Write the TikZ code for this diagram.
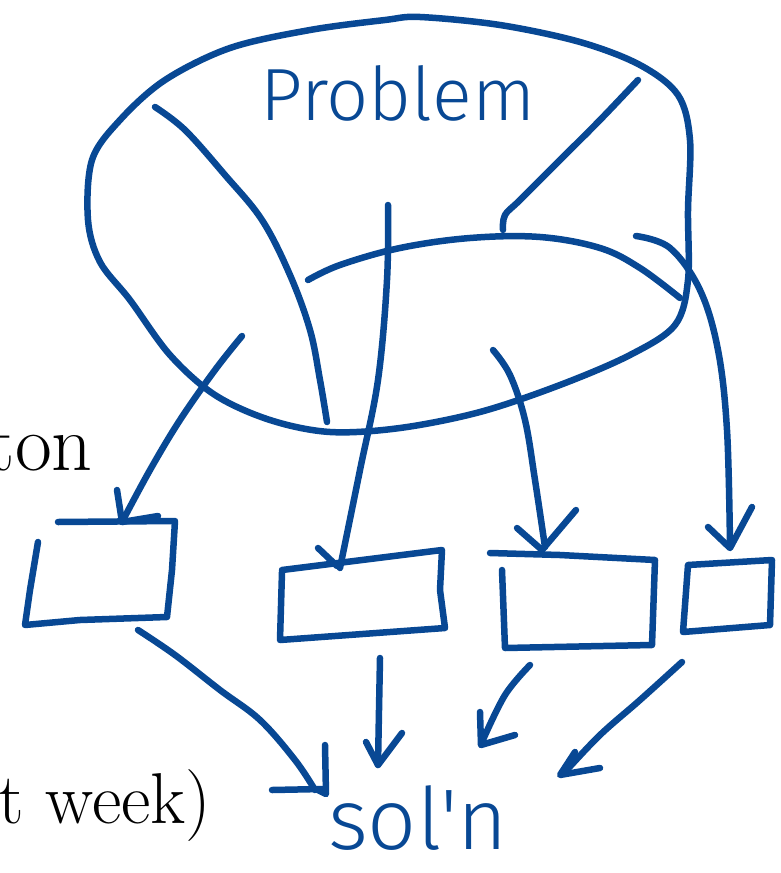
\documentclass[tikz,border=0pt]{standalone}
\usepackage{fontspec}
\newfontfamily\handfont{Fira Sans Light}
\definecolor{ink}{RGB}{8,72,148}
\tikzset{
  ink/.style={draw=ink, line width=6.5pt, line cap=round, line join=round},
  hand/.style={text=ink, font=\handfont\fontsize{86}{86}\selectfont, inner sep=0pt},
  slide/.style={text=black, inner sep=0pt}
}
\begin{document}
\begin{tikzpicture}[x=1pt,y=-1pt]
\useasboundingbox (0,0) rectangle (780,873);
% problem blob
\draw[ink] plot[smooth cycle, tension=0.55] coordinates {(420,17) (500,25) (580,42) (640,65) (678,95) (690,140) (688,210) (688,280) (675,325) (630,355) (560,385) (480,412) (400,428) (330,432) (270,420) (215,395) (170,355) (130,300) (100,262) (88,220) (92,160) (120,120) (165,80) (230,48) (310,30) (385,20)};
\draw[ink] plot[smooth, tension=0.6] coordinates {(308,280) (340,265) (400,248) (470,238) (540,237) (600,248) (640,268) (680,298)};
\draw[ink] plot[smooth, tension=0.6] coordinates {(155,107) (185,130) (225,175) (262,220) (290,275) (310,330) (320,380) (327,422)};
\draw[ink] plot[smooth, tension=0.6] coordinates {(638,80) (600,120) (560,160) (520,200) (505,215) (503,230)};
\node[hand, font=\handfont\fontsize{74}{74}\selectfont, anchor=base] (problem) at (398,120) {Problem};
% boxes
\coordinate (b1) at (100,570);
\coordinate (b2) at (362,595);
\coordinate (b3) at (578,600);
\coordinate (b4) at (728,595);
\draw[ink] (58,522) -- (175,521) -- (172,570) -- (167,617) -- (80,620) -- (25,625) -- (30,590) -- (38,542);
\draw[ink] (282,572) -- (280,640) -- (445,628) -- (440,590) -- (442,550) -- (282,570);
\draw[ink] (490,553) -- (560,555) -- (655,560) -- (652,645) -- (505,648) -- (502,570);
\draw[ink] (688,565) -- (683,632) -- (770,625) -- (772,560) -- (688,565);
% arrows from problem to boxes
\draw[ink] plot[smooth, tension=0.6] coordinates {(242,336) (215,370) (180,420) (150,470) (122,522)};
\draw[ink] (117,490) -- (122,522) -- (158,516);
\draw[ink] plot[smooth, tension=0.6] coordinates {(388,205) (387,280) (378,380) (360,470) (340,568)};
\draw[ink] (318,548) -- (337,566);
\draw[ink] plot[smooth, tension=0.6] coordinates {(493,350) (510,375) (525,420) (535,480) (545,547)};
\draw[ink] (517,528) -- (542,550) -- (576,510);
\draw[ink] plot[smooth, tension=0.6] coordinates {(636,236) (670,248) (700,290) (718,350) (727,430) (730,545)};
\draw[ink] (708,527) -- (730,548) -- (752,507);
% arrows from boxes to solution
\draw[ink] plot[smooth, tension=0.6] coordinates {(138,630) (175,655) (220,690) (260,720) (295,760) (315,790)};
\draw[ink] (272,790) -- (322,789);
\draw[ink] (325,745) -- (326,794) -- (318,790);
\draw[ink] (380,658) -- (379,710) -- (378,765);
\draw[ink] (366,742) -- (378,765) -- (402,733);
\draw[ink] plot[smooth, tension=0.6] coordinates {(530,665) (505,695) (482,742)};
\draw[ink] (480,712) -- (481,745) -- (515,735);
\draw[ink] plot[smooth, tension=0.6] coordinates {(682,662) (640,700) (600,735) (565,772)};
\draw[ink] (575,752) -- (560,775) -- (600,768);
\node[hand] (soln) at (418,818) {sol'n};
% slide text cut at the left edge
\node[slide, anchor=base east, font=\fontsize{80}{80}\selectfont] (ton) at (93,470) {ton};
\node[slide, anchor=base east, font=\fontsize{72}{72}\selectfont] (week) at (211,823) {t week)};
\end{tikzpicture}
\end{document}
